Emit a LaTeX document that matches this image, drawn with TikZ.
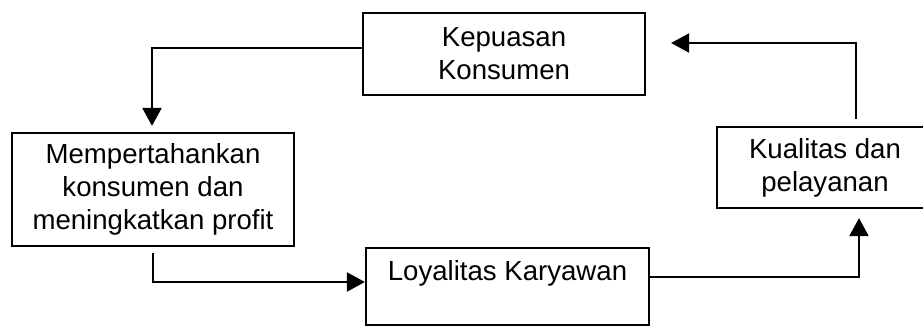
\documentclass[tikz,border=0pt]{standalone}
\usepackage{fontspec}
\setmainfont{Liberation Sans}
\usetikzlibrary{arrows.meta}

\begin{document}
\begin{tikzpicture}[x=1pt,y=1pt,
    kotak/.style={draw,line width=1.1pt,align=center,inner sep=0pt,
      font=\fontsize{13.8}{16.5}\selectfont},
    panah/.style={line width=1.1pt,-{Triangle[length=9pt,width=9.5pt]}}]
  \useasboundingbox(0,0)rectangle(461.5,-163.5);
  \begin{scope}
  \clip(0,0)rectangle(461.5,-163.5);
  \node[kotak,minimum width=141pt,minimum height=41pt](kep)at(252,-27){Kepuasan\\Konsumen};
  \node[kotak,minimum width=141pt,minimum height=56.5pt](mem)at(76.5,-94.75)
    {Mempertahankan\\konsumen dan\\meningkatkan profit};
  \node[kotak,minimum width=141.5pt,minimum height=38.5pt](loy)at(253.75,-143.25)
    {Loyalitas Karyawan\\\mbox{}};
  \node[kotak,minimum width=108pt,minimum height=40.5pt](kual)at(412.5,-83.75)
    {Kualitas dan\\pelayanan};
  \end{scope}
  % alur
  \draw[panah]([yshift=3pt]kep.west)-|([xshift=-0.5pt,yshift=3pt]mem.north);
  \draw[panah]([yshift=-3pt]mem.south)|-([yshift=2.25pt]loy.west);
  \draw[panah]([yshift=4.75pt]loy.east)-|([xshift=17pt,yshift=-4.5pt]kual.south);
  \draw[panah]([xshift=15.5pt,yshift=3.5pt]kual.north)|-([xshift=12.5pt,yshift=5.5pt]kep.east);
\end{tikzpicture}
\end{document}
